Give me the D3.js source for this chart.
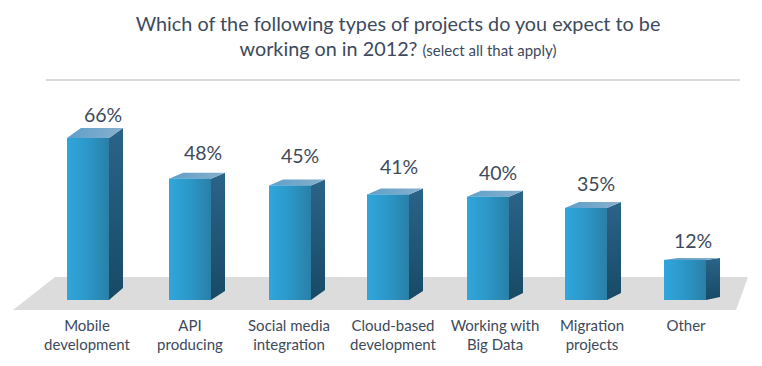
<!DOCTYPE html>
<html>
<head>
<meta charset="utf-8">
<script src="https://cdn.jsdelivr.net/npm/d3@7"></script>
<style>
  html, body { margin: 0; padding: 0; background: #fff; }
  text { font-family: Lato, "Open Sans", sans-serif; fill: #3d4a5c; }
</style>
</head>
<body>
<svg id="chart" width="762" height="366"></svg>
<script>
const categories = ["Mobile development", "API producing", "Social media integration", "Cloud-based development", "Working with Big Data", "Migration projects", "Other"];
const labelLines = [["Mobile", "development"], ["API", "producing"], ["Social media", "integration"], ["Cloud-based", "development"], ["Working with", "Big Data"], ["Migration", "projects"], ["Other"]];
const values = [66, 48, 45, 41, 40, 35, 12];

const width = 762, height = 366;
const baseY = 300, barW = 42, depth = 14;

const svg = d3.select("#chart").attr("viewBox", [0, 0, width, height]);

const x = d3.scaleOrdinal().domain(categories).range([67, 169, 269, 367, 467, 565, 664]);
const labelX = d3.scaleOrdinal().domain(categories).range([87, 190, 289, 393, 495, 592, 686]);
const valueX = d3.scaleOrdinal().domain(categories).range([103, 203, 300, 399, 498, 596, 693]);
const valueGap = d3.scaleOrdinal().domain(categories).range([16, 19, 22, 20, 17, 17, 12]);
const y = d3.scaleLinear().domain([0, 66]).range([287, 138]);

// the back edges rise less the further right a bar stands
const riseBottom = d3.scaleOrdinal().domain(categories).range([12, 9, 10, 9, 7, 7, 3]);
const riseTop = d3.scaleOrdinal().domain(categories).range([10, 6, 6, 6, 6, 6, 2]);

const defs = svg.append("defs");
function gradient(id, x2, y2, stops) {
    const g = defs.append("linearGradient").attr("id", id)
        .attr("x1", 0).attr("y1", 0).attr("x2", x2).attr("y2", y2);
    stops.forEach((c, i) => g.append("stop").attr("offset", i / (stops.length - 1)).attr("stop-color", c));
}
gradient("front", 1, 0, ["#30a6dc", "#2b97c8", "#2a7fa6"]);
gradient("side", 0, 1, ["#2a6488", "#174a66"]);
gradient("top", 1, 0, ["#5f9fc9", "#88b0cd"]);

// title
const title = svg.append("g").attr("text-anchor", "middle");
title.append("text").attr("x", 398).attr("y", 31).attr("font-size", 19.8)
    .text("Which of the following types of projects do you expect to be");
const line2 = title.append("text").attr("x", 398).attr("y", 56).attr("font-size", 19.8);
line2.append("tspan").text("working on in 2012? ");
line2.append("tspan").attr("font-size", 15).text("(select all that apply)");

svg.append("line").attr("x1", 46).attr("x2", 740).attr("y1", 80).attr("y2", 80)
    .attr("stroke", "#cfcfcf").attr("stroke-width", 1.5);

// floor
svg.append("path").attr("d", "M13,310L55,277L748,277L736,310Z").attr("fill", "#dcdcdc");

const bar = svg.append("g").selectAll("g")
    .data(categories)
    .join("g");

bar.append("path").attr("fill", "url(#side)")
    .attr("d", (d, i) => {
        const r = x(d) + barW;
        return `M${r},${y(values[i])}L${r + depth},${y(values[i]) - riseTop(d)}L${r + depth},${baseY - riseBottom(d)}L${r},${baseY}Z`;
    });

bar.append("path").attr("fill", "url(#top)")
    .attr("d", (d, i) => {
        const l = x(d), t = y(values[i]), rt = riseTop(d);
        return `M${l},${t}L${l + barW},${t}L${l + barW + depth},${t - rt}L${l + depth},${t - rt}Z`;
    });

bar.append("rect").attr("fill", "url(#front)")
    .attr("x", d => x(d))
    .attr("y", (d, i) => y(values[i]))
    .attr("width", barW)
    .attr("height", (d, i) => baseY - y(values[i]));

bar.append("text")
    .attr("text-anchor", "middle")
    .attr("font-size", 19.5)
    .attr("x", d => valueX(d))
    .attr("y", (d, i) => y(values[i]) - valueGap(d))
    .text((d, i) => values[i] + "%");

bar.append("text")
    .attr("text-anchor", "middle")
    .attr("font-size", 15)
    .selectAll("tspan")
    .data((d, i) => labelLines[i].map(t => ({ t, cat: d })))
    .join("tspan")
    .attr("x", d => labelX(d.cat))
    .attr("y", (d, i) => 331 + i * 19)
    .text(d => d.t);
</script>
</body>
</html>
